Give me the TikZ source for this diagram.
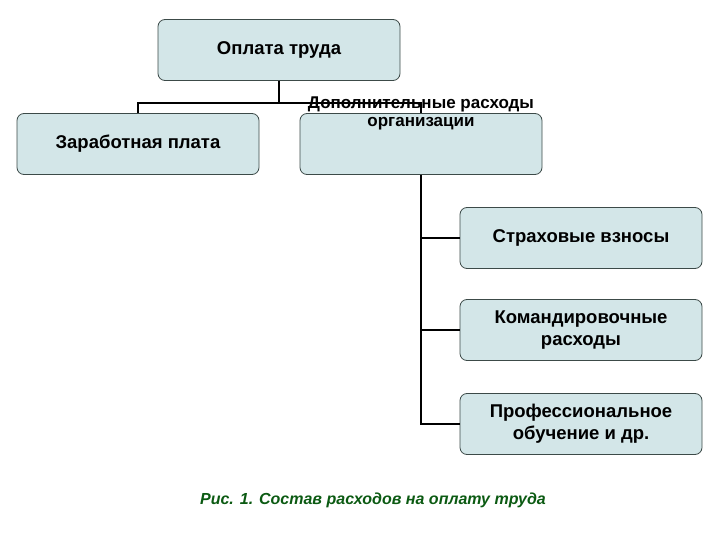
\documentclass[tikz,border=0pt]{standalone}
\usepackage{fontspec}
\setmainfont{Liberation Sans}
\definecolor{boxfill}{HTML}{D3E6E8}
\definecolor{boxdraw}{HTML}{3C4A48}
\definecolor{capgreen}{HTML}{0B5A12}
\begin{document}
\begin{tikzpicture}[x=1pt,y=-1pt,
  box/.style={draw=boxdraw,fill=boxfill,rounded corners=7pt,line width=0.8pt,minimum width=242pt,minimum height=61pt,align=center,font=\fontsize{18.5}{22}\selectfont\bfseries,inner sep=2pt},
  conn/.style={line width=1.6pt,black}]
\useasboundingbox (0,0) rectangle (720,540);
\node[box] (top) at (279,50) {Оплата труда};
\node[box] (zp) at (138,144) {Заработная плата};
\node[box,text height=30pt,text depth=25pt,font=\fontsize{17}{21}\selectfont\bfseries] (dop) at (421,144) {\raisebox{20pt}{\shortstack{Дополнительные расходы\\[2pt]организации}}};
\node[box] (s1) at (581,238) {Страховые взносы};
\node[box] (s2) at (581,330) {Командировочные\\расходы};
\node[box] (s3) at (581,424) {Профессиональное\\обучение и др.};
\coordinate (j) at (279,103);
\draw[conn] (top.south) -- (j);
\draw[conn] (zp.north) |- (j) -| (dop.north);
\draw[conn] (dop.south) |- (s3.west);
\draw[conn] (dop.south |- s1.west) -- (s1.west);
\draw[conn] (dop.south |- s2.west) -- (s2.west);
\node[font=\fontsize{16}{19}\selectfont\itshape\bfseries,text=capgreen] (cap) at (373,500) {Рис. 1. Состав расходов на оплату труда};
\end{tikzpicture}
\end{document}
